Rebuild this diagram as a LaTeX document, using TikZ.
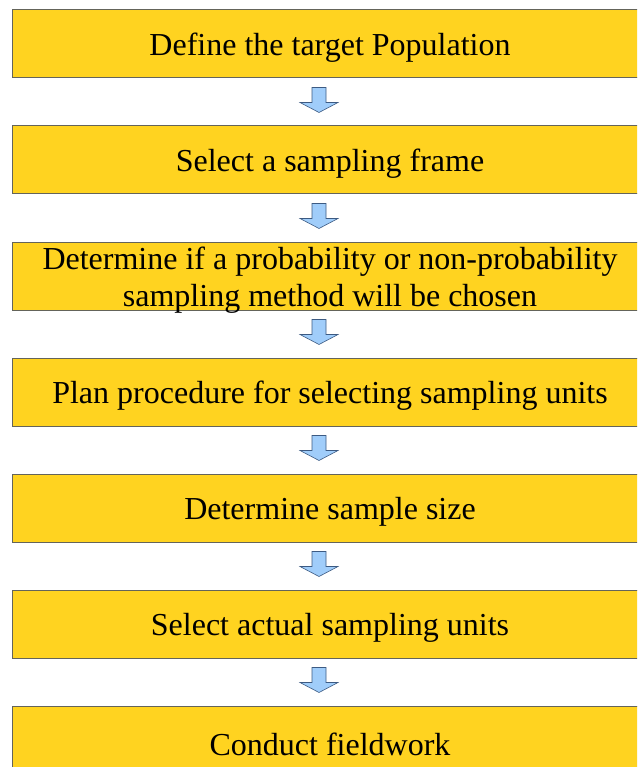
\documentclass[tikz,border=0pt]{standalone}
\usepackage{fontspec}
\setmainfont{Liberation Serif}
\usetikzlibrary{calc}
\definecolor{boxfill}{RGB}{255,211,32}
\definecolor{boxline}{RGB}{100,100,90}
\definecolor{arrowfill}{RGB}{160,205,250}
\definecolor{arrowline}{RGB}{60,90,130}
\tikzset{
  stepbox/.style={draw=boxline, line width=1pt, fill=boxfill, minimum width=636pt,
    minimum height=68pt, inner sep=0pt},
  steptext/.style={inner sep=0pt, align=center, font=\fontsize{32}{37}\selectfont},
  downarrow/.style={draw=arrowline, line width=0.6pt, fill=arrowfill}
}
\newcommand{\blockarrow}[1]{%
  \draw[downarrow] ($(#1)+(-7,0)$) -- ++(14,0) -- ++(0,-15) -- ++(12,0)
    -- ++(-19,-10) -- ++(-19,10) -- ++(12,0) -- cycle;}
\begin{document}
\begin{tikzpicture}[x=1pt,y=1pt]
\useasboundingbox (0,0) rectangle (637,-767);
\begin{scope}
\clip (0,0) rectangle (637,-767);
\foreach \n/\y in {1/44,2/160,3/276,4/392,5/508,6/624,7/740}{
  \node[stepbox] (b\n) at (330,-\y) {};
}
\node[steptext] (t1) at ($(b1)+(0,-4)$) {Define the target Population};
\node[steptext] (t2) at ($(b2)+(0,-4)$) {Select a sampling frame};
\node[steptext] (t3) at ($(b3)+(0,-4)$) {Determine if a probability or non-probability\\sampling method will be chosen};
\node[steptext] (t4) at ($(b4)+(0,-4)$) {Plan procedure for selecting sampling units};
\node[steptext] (t5) at ($(b5)+(0,-4)$) {Determine sample size};
\node[steptext] (t6) at ($(b6)+(0,-4)$) {Select actual sampling units};
\node[steptext] (t7) at ($(b7)+(0,-4)$) {Conduct fieldwork};
\foreach \a in {b1,b2,b3,b4,b5,b6}{
  \coordinate (top-\a) at ($(\a.south)+(-11,-9)$);
  \blockarrow{top-\a}
}
\end{scope}
\end{tikzpicture}
\end{document}
